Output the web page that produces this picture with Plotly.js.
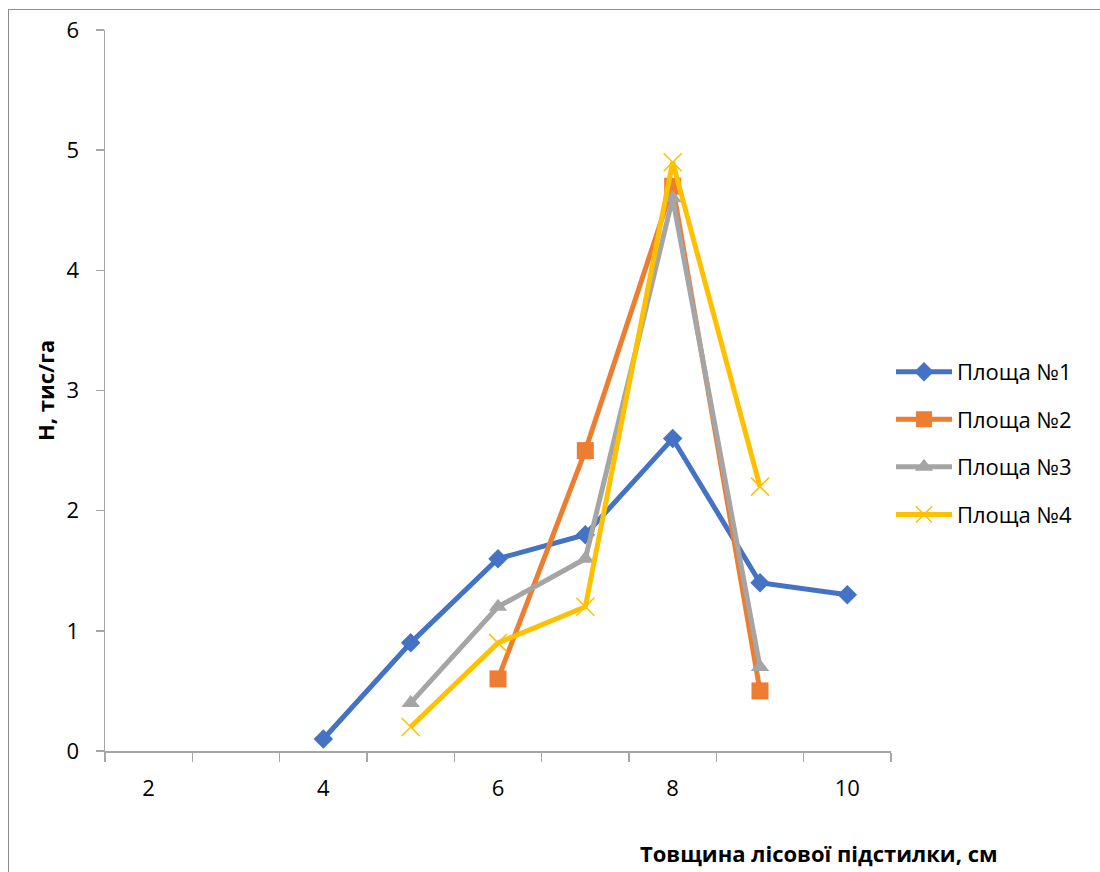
<!DOCTYPE html>
<html>
<head>
<meta charset="utf-8">
<script src="https://cdn.plot.ly/plotly-3.0.1.min.js"></script>
<style>
  html, body { margin: 0; padding: 0; overflow: hidden; background: #fff; }
  #chart { width: 1100px; height: 872px; }
  /* chart-area frame running off the right and bottom edges */
  #frame {
    position: absolute; left: 8px; top: 9px; width: 1200px; height: 1000px;
    border: 1px solid #8c8c8c; box-sizing: border-box; pointer-events: none;
  }
</style>
</head>
<body>
<div id="chart"></div>
<div id="frame"></div>
<script>
// Litter thickness classes, cm
const thickness = [2, 3, 4, 5, 6, 7, 8, 9, 10];
const tickLabels = [2, 4, 6, 8, 10];

// Seedling density per plot, thousand/ha
const plot1 = [null, null, 0.1, 0.9, 1.6, 1.8, 2.6, 1.4, 1.3];
const plot2 = [null, null, null, null, 0.6, 2.5, 4.7, 0.5, null];
const plot3 = [null, null, null, 0.4, 1.2, 1.6, 4.6, 0.7, null];
const plot4 = [null, null, null, 0.2, 0.9, 1.2, 4.9, 2.2, null];

const names = ['Площа №1', 'Площа №2', 'Площа №3', 'Площа №4'];

const FONT = '"Open Sans", "Noto Sans", sans-serif';
const FS = 22;
const AXIS = '#a6a6a6';

function series(y, name, color, marker, group) {
  return {
    x: thickness, y: y, name: name, type: 'scatter', mode: 'lines+markers',
    legendgroup: group,
    line: { color: color, width: 5 },
    marker: marker,
    connectgaps: false,
    hoverinfo: 'x+y+name'
  };
}

const traces = [
  series(plot1, names[0], '#4472C4', { symbol: 'diamond', size: 15, color: '#4472C4' }, 'g1'),
  series(plot2, names[1], '#ED7D31', { symbol: 'square', size: 17, color: '#ED7D31' }, 'g2'),
  series(plot3, names[2], '#A5A5A5', { symbol: 'triangle-up', size: 16, color: '#A5A5A5' }, 'g3'),
  series(plot4, names[3], '#FFC000', { symbol: 'x-thin', size: 18, color: '#FFC000',
    line: { color: '#FFC000', width: 1.5 } }, 'g4')
];

const layout = {
  width: 1100, height: 872,
  margin: { l: 105, r: 209, t: 30, b: 121 },
  paper_bgcolor: '#fff', plot_bgcolor: '#fff',
  font: { family: FONT, size: FS, color: '#000' },
  showlegend: true,
  legend: {
    x: 1.0, xanchor: 'left', y: 0.555, yanchor: 'top',
    font: { family: FONT, size: FS, color: '#000' },
    tracegroupgap: 16, itemwidth: 56, bgcolor: 'rgba(0,0,0,0)'
  },
  xaxis: {
    range: [1.5, 10.5], fixedrange: true,
    tickmode: 'array', tickvals: tickLabels, ticktext: tickLabels.map(String),
    ticks: '', ticklabelstandoff: 17,
    tickfont: { family: FONT, size: FS, color: '#000' },
    minor: { tickmode: 'linear', tick0: 1.5, dtick: 1, ticks: 'outside', ticklen: 9,
      tickcolor: AXIS, tickwidth: 1.5, showgrid: false },
    showline: true, linecolor: AXIS, linewidth: 1.5,
    showgrid: false, zeroline: false
  },
  yaxis: {
    range: [0, 6], dtick: 1, fixedrange: true,
    ticks: 'outside', ticklen: 8, tickcolor: AXIS, tickwidth: 1.5,
    ticklabelstandoff: 12,
    tickfont: { family: FONT, size: FS, color: '#000' },
    showline: true, linecolor: AXIS, linewidth: 1.5,
    showgrid: false, zeroline: false,
    title: { text: 'Н, тис/га', font: { family: FONT, size: FS, color: '#000', weight: 'bold' }, standoff: 6 }
  },
  annotations: [{
    text: 'Товщина лісової підстилки, см',
    xref: 'paper', yref: 'paper', x: 0.909, y: -0.1655,
    xanchor: 'center', yanchor: 'bottom', showarrow: false,
    font: { family: FONT, size: FS, color: '#000', weight: 'bold' }
  }]
};

Plotly.newPlot('chart', traces, layout, { displayModeBar: false, staticPlot: true });
</script>
</body>
</html>
